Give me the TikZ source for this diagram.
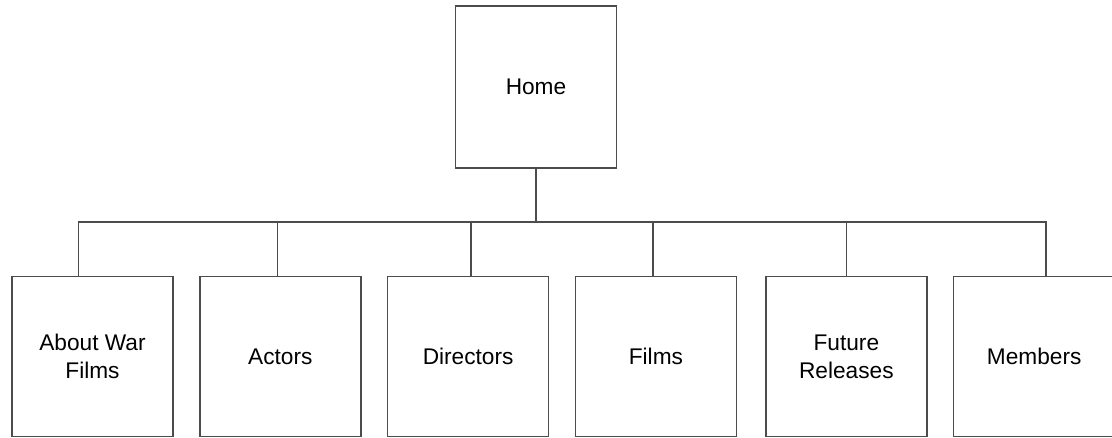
\documentclass[tikz,border=0pt]{standalone}
\usepackage{fontspec}
\setmainfont{Liberation Sans}
\usetikzlibrary{positioning}

\begin{document}
\begin{tikzpicture}[
    x=0.75pt,y=-0.75pt,
    page/.style={draw=black!70,line width=1.1pt,align=center,
      minimum width=120.75pt,minimum height=120pt,inner sep=0pt,
      font=\fontsize{17}{21}\selectfont},
    link/.style={draw=black!70,line width=1.1pt},
    node distance=19pt
  ]
    \useasboundingbox (0,0) rectangle (1112,437);
    \node[page,minimum height=121.5pt] (home) at (536,87) {Home};
    \node[page] (about) at (92.5,356.5) {About War\\Films};
    \node[page,right=of about] (actors) {Actors};
    \node[page,right=of actors] (directors) {Directors};
    \node[page,right=of directors] (films) {Films};
    \node[page,right=of films,xshift=2pt] (future) {Future\\Releases};
    \node[page,right=of future] (members) {Members};
    % bus line under Home
    \coordinate (bus) at (536,222);
    \draw[link] (home.south) -- (bus);
    \foreach \n/\dx in {about/-14,actors/-3,directors/3,films/-3,future/0,members/12}
      \draw[link] ([xshift=\dx*0.75pt]\n.north) |- (bus);
  \end{tikzpicture}
\end{document}
